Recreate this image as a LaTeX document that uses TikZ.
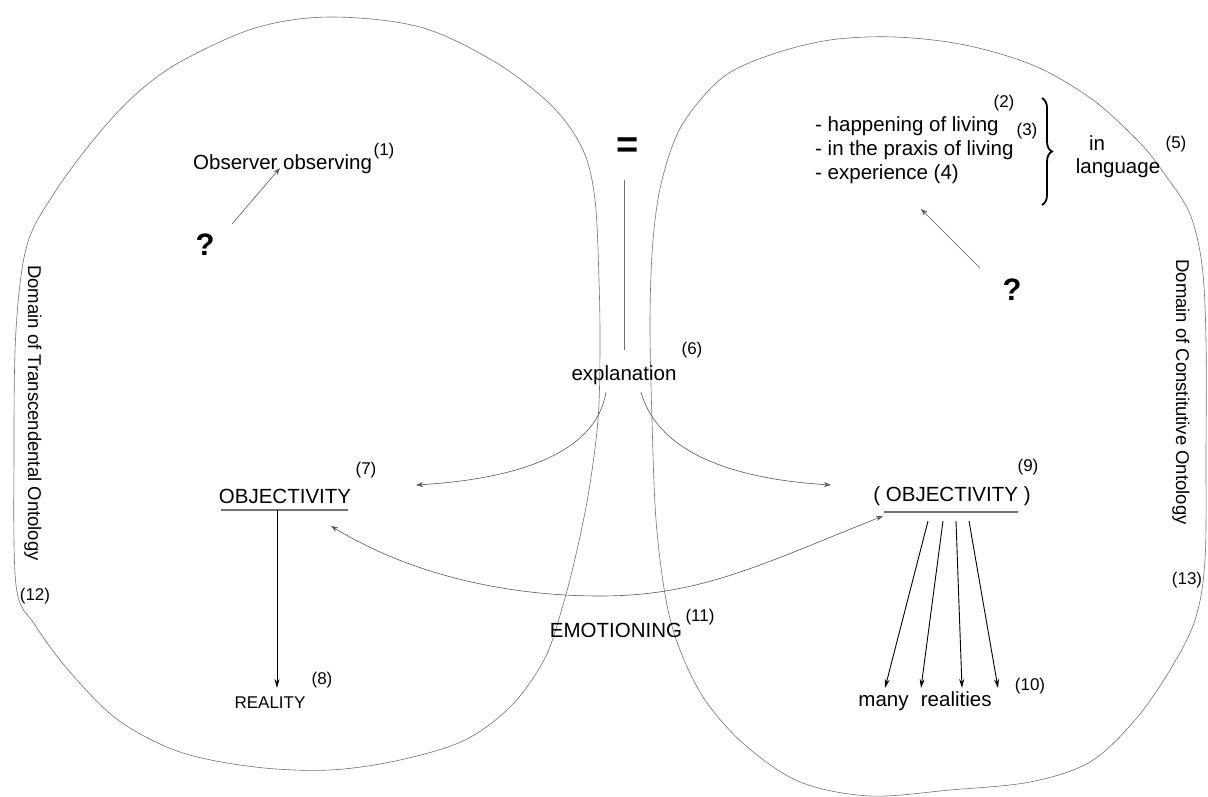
\documentclass[tikz,border=0pt]{standalone}
\usepackage{fontspec}
\setmainfont{Liberation Sans}
\usetikzlibrary{arrows.meta,decorations.pathreplacing,calc}
\begin{document}
\begin{tikzpicture}[x=1pt,y=-1pt,
 txt/.style={inner sep=0pt, font=\fontsize{20.5}{23}\selectfont},
 dom/.style={inner sep=0pt, font=\fontsize{18.5}{21}\selectfont},
 small/.style={inner sep=0pt, font=\fontsize{17}{19}\selectfont},
 num/.style={inner sep=0pt, font=\fontsize{17}{19}\selectfont},
 qm/.style={inner sep=0pt, font=\fontsize{31}{33}\selectfont\bfseries},
 blob/.style={draw=black!55, line width=0.6pt},
 garrow/.style={draw=black!65, line width=0.6pt, -{Stealth[length=7pt,width=5pt]}},
 barrow/.style={draw=black, line width=0.9pt, -{Stealth[length=9pt,width=5pt]}},
 uline/.style={draw=black!55, line width=2pt},
 brc/.style={draw=black, line width=1.8pt, decorate, decoration={brace, amplitude=10pt}}]
\useasboundingbox (0,0) rectangle (1208,796);
\fill[white] (0,0) rectangle (1208,796);

% left domain
\draw[blob] plot[smooth cycle, tension=0.55] coordinates {
 (330,17) (420,27) (495,62) (552,106) (583,150) (595,200) (599,280) (600,350)
 (598,420) (589,490) (577,550) (563,605) (545,658) (512,705) (465,740) (400,760)
 (330,770) (255,767) (180,752) (118,720) (70,672) (35,625) (16,585) (14,450)
 (16,330) (27,245) (55,192) (95,138) (135,95) (180,62) (255,28)};

% right domain
\draw[blob] plot[smooth cycle, tension=0.55] coordinates {
 (722,78) (770,55) (830,40) (895,37) (965,45) (1035,66) (1093,100) (1140,143)
 (1166,176) (1190,214) (1202,265) (1206,340) (1206,450) (1205,560) (1195,620)
 (1170,670) (1135,720) (1090,762) (1030,782) (950,790) (870,796) (800,782)
 (745,745) (705,700) (680,650) (666,600) (656,520) (652,420) (650,320)
 (653,240) (662,180) (682,125)};

% left content
\node[txt, anchor=west] (obs) at (193,164) {Observer observing};
\node[num] (n1) at (384,151) {(1)};
\node[qm] (q1) at (205,245) {?};
\coordinate (q1a) at (232,224);
\coordinate (obsa) at (280,168);
\draw[garrow] (q1a) -- (obsa);

% middle
\node[inner sep=0pt, font=\fontsize{38}{38}\selectfont\bfseries] (eq) at (628,148) {=};
\coordinate (vt) at (624,180);
\coordinate (vb) at (624,350);
\draw[draw=black!55, line width=0.6pt] (vt) -- (vb);
\node[txt] (expl) at (624,375) {explanation};
\node[num] (n6) at (692,350) {(6)};

% objectivity left
\node[txt] (obj1) at (285,496) {OBJECTIVITY};
\coordinate (u1a) at (221,510);
\coordinate (u1b) at (348,510);
\draw[uline] (u1a) -- (u1b);
\node[num] (n7) at (366,470) {(7)};
\coordinate (r1s) at (277,510);
\coordinate (r1e) at (277,688);
\draw[barrow] (r1s) -- (r1e);
\node[small] (real) at (270,703) {REALITY};
\node[num] (n8) at (322,680) {(8)};

% objectivity right
\node[txt] (obj2) at (952,496) {( OBJECTIVITY )};
\coordinate (u2a) at (884,512);
\coordinate (u2b) at (1018,512);
\draw[uline] (u2a) -- (u2b);
\node[num] (n9) at (1028,467) {(9)};
\foreach \sx/\ex [count=\i] in {928/885, 943/921, 956/962, 969/998}{
  \coordinate (s\i) at (\sx,521);
  \coordinate (e\i) at (\ex,688);
  \draw[barrow] (s\i) -- (e\i);
}
\node[txt] (many) at (925,701) {many\hspace{0.6em}realities};
\node[num] (n10) at (1030,686) {(10)};

% explanation arrows
\coordinate (el) at (606,392);
\coordinate (er) at (641,392);
\coordinate (o1t) at (416,485);
\coordinate (o2t) at (831,485);
\draw[garrow] (el) .. controls (595,460) and (500,480) .. (o1t);
\draw[garrow] (er) .. controls (660,460) and (750,480) .. (o2t);

% emotioning arc
\coordinate (emr) at (883,516);
\coordinate (eml) at (331,526);
\draw[garrow, {Stealth[length=7pt,width=5pt]}-{Stealth[length=7pt,width=5pt]}] (eml) .. controls (420,580) and (520,596) .. (600,596) .. controls (700,596) and (760,565) .. (emr);
\node[txt] (emo) at (616,630) {EMOTIONING};
\node[num] (n11) at (700,617) {(11)};

% right top content
\node[txt, anchor=west] (l1) at (815,126) {- happening of living};
\node[txt, anchor=west] (l2) at (815,150) {- in the praxis of living};
\node[txt, anchor=west] (l3) at (815,174) {- experience (4)};
\node[num] (n2) at (1004,103) {(2)};
\node[num] (n3) at (1027,131) {(3)};
\coordinate (bt) at (1042,98);
\coordinate (bb) at (1042,205);
\draw[brc] (bt) -- (bb);
\node[txt] (in) at (1097,143) {in};
\node[txt] (lang) at (1118,168) {language};
\node[num] (n5) at (1176,144) {(5)};
\node[qm] (q2) at (1012,290) {?};
\coordinate (q2a) at (980,268);
\coordinate (la) at (921,209);
\draw[garrow] (q2a) -- (la);

% domain labels and numbers
\node[dom, rotate=-90] (dt) at (33,413) {Domain of Transcendental Ontology};
\node[num] (n12) at (35,596) {(12)};
\node[dom, rotate=-90] (dc) at (1181,392) {Domain of Constitutive Ontology};
\node[num] (n13) at (1187,580) {(13)};
\end{tikzpicture}
\end{document}
